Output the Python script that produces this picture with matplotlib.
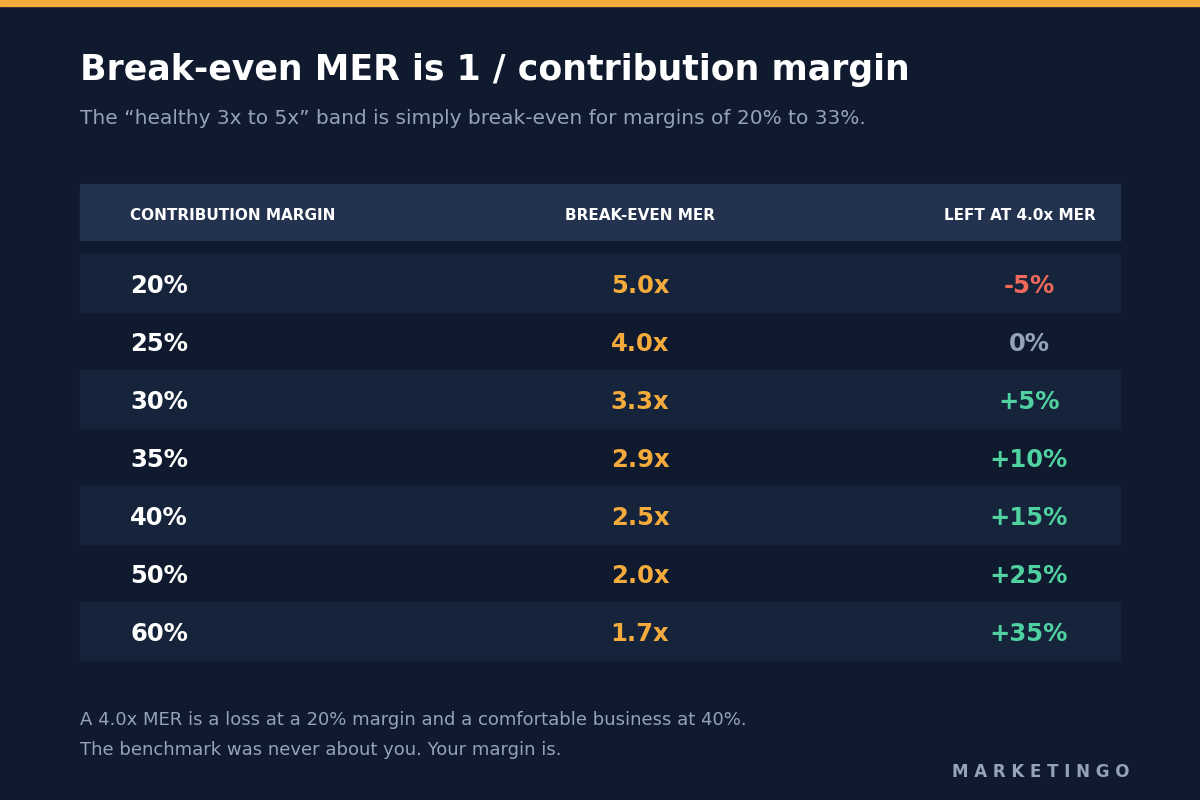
import matplotlib.pyplot as plt
from matplotlib.patches import Rectangle

margins = ["20%", "25%", "30%", "35%", "40%", "50%", "60%"]
break_even = ["5.0x", "4.0x", "3.3x", "2.9x", "2.5x", "2.0x", "1.7x"]
left_at_4x = ["-5%", "0%", "+5%", "+10%", "+15%", "+25%", "+35%"]
headers = ["CONTRIBUTION MARGIN", "BREAK-EVEN MER", "LEFT AT 4.0x MER"]

BG = "#0f1a2e"
ROW = "#16243b"
HEAD = "#22324f"
ORANGE = "#f5ab3c"
RED = "#f0695a"
GREEN = "#4fd1a0"
GRAY = "#94a3b8"
WHITE = "#ffffff"

fig = plt.figure(figsize=(12, 8), dpi=100, facecolor=BG)
ax = fig.add_axes([0, 0, 1, 1])
ax.set_xlim(0, 1200)
ax.set_ylim(800, 0)
ax.axis("off")
ax.set_facecolor(BG)

ax.add_patch(Rectangle((0, 0), 1200, 6, color=ORANGE))

ax.text(80, 70, "Break-even MER is 1 / contribution margin", color=WHITE,
        fontsize=25, fontweight="bold", va="center")
ax.text(80, 118, "The \u201chealthy 3x to 5x\u201d band is simply break-even for margins of 20% to 33%.",
        color=GRAY, fontsize=14.5, va="center")

# header
ax.add_patch(Rectangle((80, 184), 1040, 56, color=HEAD))
ax.text(130, 216, headers[0], color=WHITE, fontsize=11, fontweight="bold", va="center")
ax.text(640, 216, headers[1], color=WHITE, fontsize=11, fontweight="bold", va="center", ha="center")
ax.text(1096, 216, headers[2], color=WHITE, fontsize=11, fontweight="bold", va="center", ha="right")

top, step = 254, 58
for i, (m, b, l) in enumerate(zip(margins, break_even, left_at_4x)):
    y = top + i * step
    if i % 2 == 0:
        ax.add_patch(Rectangle((80, y), 1040, step, color=ROW))
    yc = y + step / 2 + 3
    ax.text(130, yc, m, color=WHITE, fontsize=17.5, fontweight="bold", va="center")
    ax.text(640, yc, b, color=ORANGE, fontsize=17.5, fontweight="bold", va="center", ha="center")
    if l.startswith("-"):
        c = RED
    elif l.startswith("+"):
        c = GREEN
    else:
        c = GRAY
    ax.text(1029, yc, l, color=c, fontsize=17.5, fontweight="bold", va="center", ha="center")

ax.text(80, 720, "A 4.0x MER is a loss at a 20% margin and a comfortable business at 40%.",
        color=GRAY, fontsize=13, va="center")
ax.text(80, 750, "The benchmark was never about you. Your margin is.",
        color=GRAY, fontsize=13, va="center")
ax.text(1130, 772, "M A R K E T I N G O", color=GRAY, fontsize=12, fontweight="bold",
        va="center", ha="right")

fig.savefig("out.png", dpi=100, facecolor=BG)
